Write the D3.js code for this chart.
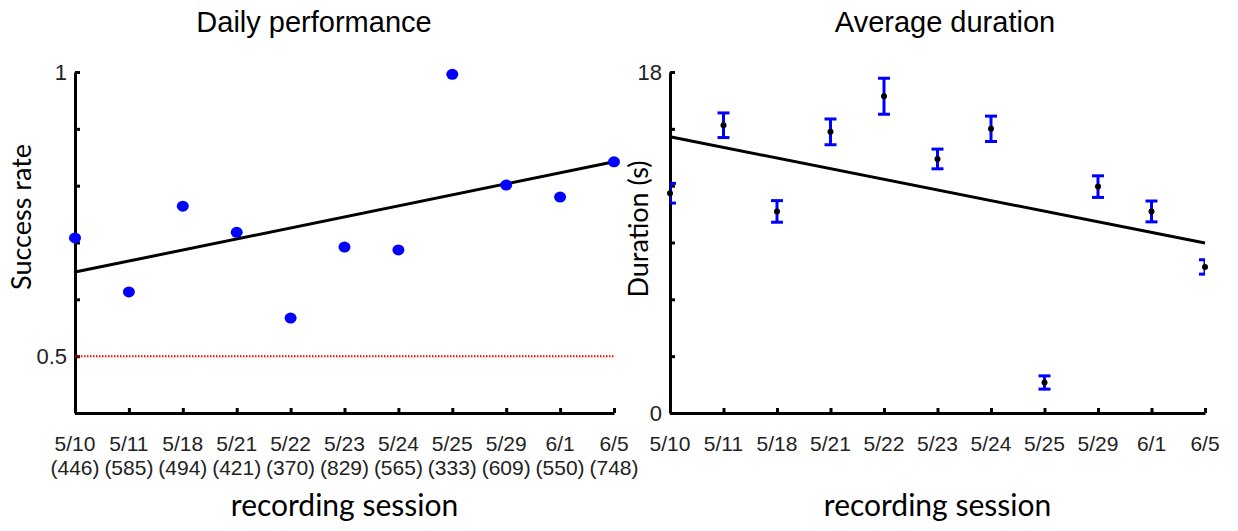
<!DOCTYPE html>
<html>
<head>
<meta charset="utf-8">
<script src="https://cdn.jsdelivr.net/npm/d3@7"></script>
<style>
  body { margin: 0; background: #fff; }
  .tick text, .lbl { font-family: "Liberation Sans", Arial, sans-serif; fill: #222; }
  .title { font-family: "Liberation Sans", Arial, sans-serif; font-size: 29px; fill: #000; }
  .axlabel { font-family: Lato, "Open Sans", sans-serif; fill: #000; }
</style>
</head>
<body>
<svg id="chart" width="1238" height="531"></svg>
<script>
// sessions and the number of trials in each
var sessions = ["5/10", "5/11", "5/18", "5/21", "5/22", "5/23", "5/24", "5/25", "5/29", "6/1", "6/5"];
var trialCounts = ["446", "585", "494", "421", "370", "829", "565", "333", "609", "550", "748"];

// left panel: success rate per session
var successRate = [0.708, 0.613, 0.764, 0.718, 0.567, 0.692, 0.687, 0.996, 0.801, 0.780, 0.842];
var successTrend = [0.648, 0.842]; // fitted line at first and last session
var chanceLevel = 0.5;
var rateTicks = [0.4, 0.5, 0.6, 0.7, 0.8, 0.9, 1];
var rateLabels = [0.5, 1];

// right panel: mean duration (s) and error bar half-length
var durationMean = [11.6, 15.19, 10.64, 14.84, 16.72, 13.41, 15.0, 1.61, 11.95, 10.64, 7.71];
var durationErr = [0.52, 0.65, 0.57, 0.68, 0.95, 0.52, 0.67, 0.35, 0.57, 0.55, 0.38];
var durationTrend = [14.58, 8.97];
var durTicks = [0, 3, 6, 9, 12, 15, 18];
var durLabels = [0, 18];

var svg = d3.select("#chart");
var plotTop = 72, plotBottom = 413;

function panel(left, right, yDomain, yTicks, yLabels, title, titleX, yTitle, yTitleX, yTitleY) {
  var x = d3.scalePoint().domain(sessions).range([left, right]);
  var y = d3.scaleLinear().domain(yDomain).range([plotBottom, plotTop]);

  // y axis with inward ticks
  var ya = svg.append("g")
      .attr("transform", "translate(" + left + ",0)")
      .call(d3.axisLeft(y).tickValues(yTicks).tickSize(-5).tickSizeOuter(0).tickPadding(8)
        .tickFormat(function(d) { return yLabels.indexOf(d) >= 0 ? d : ""; }));
  ya.attr("font-size", 22);
  ya.select(".domain").attr("stroke", "#000").attr("stroke-width", 3);
  ya.selectAll(".tick line").attr("stroke", "#000").attr("stroke-width", 3);
  ya.selectAll(".tick text").style("font-size", "22px");

  // x axis with inward ticks, labels drawn below
  var xa = svg.append("g")
      .attr("transform", "translate(0," + plotBottom + ")")
      .call(d3.axisBottom(x).tickSize(-5).tickSizeOuter(0).tickFormat(""));
  xa.select(".domain").attr("stroke", "#000").attr("stroke-width", 3);
  xa.selectAll(".tick line").attr("stroke", "#000").attr("stroke-width", 3);

  svg.append("text").attr("class", "title")
      .attr("x", titleX).attr("y", 32).attr("text-anchor", "middle").text(title);
  svg.append("text").attr("class", "axlabel").attr("font-size", 27)
      .attr("transform", "translate(" + yTitleX + "," + yTitleY + ") rotate(-90)")
      .attr("text-anchor", "middle").text(yTitle);
  svg.append("text").attr("class", "axlabel").attr("font-size", 30)
      .attr("x", (left + right) / 2).attr("y", 516).attr("text-anchor", "middle").text("recording session");

  return {x: x, y: y};
}

// ---- left: Daily performance ----
var L = panel(75, 614, [0.4, 1], rateTicks, rateLabels, "Daily performance", 314, "Success rate", 31, 217);

svg.append("line")
    .attr("x1", L.x(sessions[0])).attr("x2", L.x(sessions[sessions.length - 1]))
    .attr("y1", L.y(chanceLevel)).attr("y2", L.y(chanceLevel))
    .attr("stroke", "#f00").attr("stroke-width", 2).attr("stroke-dasharray", "1.5,1.5");

svg.append("line")
    .attr("x1", L.x(sessions[0])).attr("x2", L.x(sessions[sessions.length - 1]))
    .attr("y1", L.y(successTrend[0])).attr("y2", L.y(successTrend[1]))
    .attr("stroke", "#000").attr("stroke-width", 3);

svg.selectAll(".rate")
    .data(successRate)
    .enter().append("ellipse")
    .attr("class", "rate")
    .attr("cx", function(d, i) { return L.x(sessions[i]); })
    .attr("cy", function(d) { return L.y(d); })
    .attr("rx", 6).attr("ry", 5.5)
    .attr("fill", "#0000ff");

sessions.forEach(function(s, i) {
  var t = svg.append("text").attr("class", "lbl").attr("font-size", 21)
      .attr("text-anchor", "middle").attr("x", L.x(s));
  t.append("tspan").attr("x", L.x(s)).attr("y", 451).text(s);
  t.append("tspan").attr("x", L.x(s)).attr("y", 475).text("(" + trialCounts[i] + ")");
});

// ---- right: Average duration ----
var R = panel(670, 1205, [0, 18], durTicks, durLabels, "Average duration", 945, "Duration (s)", 648, 229);

svg.append("line")
    .attr("x1", R.x(sessions[0])).attr("x2", R.x(sessions[sessions.length - 1]))
    .attr("y1", R.y(durationTrend[0])).attr("y2", R.y(durationTrend[1]))
    .attr("stroke", "#000").attr("stroke-width", 3);

svg.append("clipPath").attr("id", "rclip")
  .append("rect").attr("x", 670).attr("y", 0).attr("width", 1205 - 670).attr("height", 531);

var bars = svg.append("g").attr("clip-path", "url(#rclip)")
    .selectAll(".err")
    .data(durationMean)
    .enter().append("g").attr("class", "err");

bars.append("line")
    .attr("x1", function(d, i) { return R.x(sessions[i]); })
    .attr("x2", function(d, i) { return R.x(sessions[i]); })
    .attr("y1", function(d, i) { return R.y(d + durationErr[i]); })
    .attr("y2", function(d, i) { return R.y(d - durationErr[i]); })
    .attr("stroke", "#0000ff").attr("stroke-width", 3);
[1, -1].forEach(function(sign) {
  bars.append("line")
      .attr("x1", function(d, i) { return R.x(sessions[i]) - 6; })
      .attr("x2", function(d, i) { return R.x(sessions[i]) + 6; })
      .attr("y1", function(d, i) { return R.y(d + sign * durationErr[i]); })
      .attr("y2", function(d, i) { return R.y(d + sign * durationErr[i]); })
      .attr("stroke", "#0000ff").attr("stroke-width", 3);
});

svg.selectAll(".mean")
    .data(durationMean)
    .enter().append("circle")
    .attr("class", "mean")
    .attr("cx", function(d, i) { return R.x(sessions[i]); })
    .attr("cy", function(d) { return R.y(d); })
    .attr("r", 3)
    .attr("fill", "#000");

sessions.forEach(function(s) {
  svg.append("text").attr("class", "lbl").attr("font-size", 21)
      .attr("text-anchor", "middle").attr("x", R.x(s)).attr("y", 451).text(s);
});
</script>
</body>
</html>
